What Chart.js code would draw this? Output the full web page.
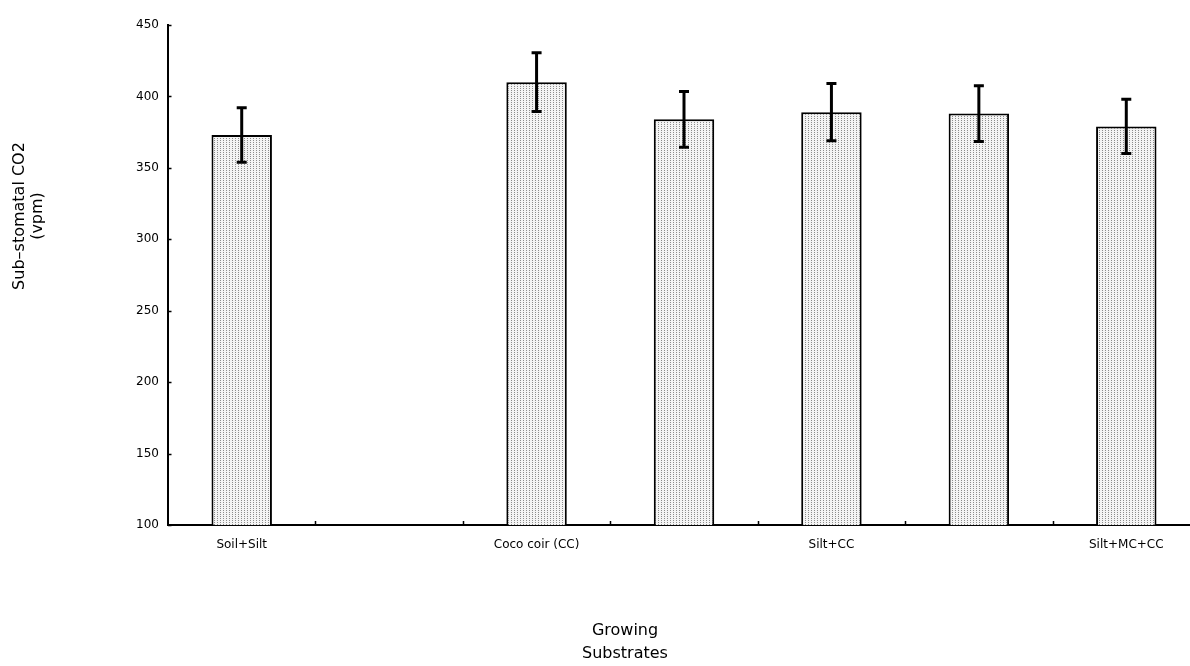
<!DOCTYPE html>
<html>
<head>
<meta charset="utf-8">
<script src="https://cdn.jsdelivr.net/npm/chart.js@4/dist/chart.umd.min.js"></script>
<style>
  html, body { margin: 0; padding: 0; background: #fff; overflow: hidden; }
  #wrap { width: 1204px; height: 666px; }
</style>
</head>
<body>
<div id="wrap"><canvas id="c" width="1204" height="666"></canvas></div>
<script>
// Growing substrates (some slots carry no printed label)
const categories = ['Soil+Silt', '', 'Coco coir (CC)', '', 'Silt+CC', '', 'Silt+MC+CC'];
// Mean sub-stomatal CO2 (vpm) per substrate
const meanCO2 = [373, null, 410, 384, 389, 388, 379];
// Error half-widths (vpm)
const errCO2 = [19, null, 20.5, 19.5, 20, 19.5, 19];
// Value axis ticks
const yTicks = [100, 150, 200, 250, 300, 350, 400, 450];

const FONT = "'DejaVu Sans', sans-serif";

// Light stippled fill for the bars
function stipple() {
  const t = document.createElement('canvas');
  t.width = 3; t.height = 2;
  const g = t.getContext('2d');
  g.fillStyle = '#f4f4f4';
  g.fillRect(0, 0, 3, 2);
  g.fillStyle = '#8c8c8c';
  g.fillRect(1, 0, 1, 1);
  return g.createPattern(t, 'repeat');
}

// Error bars drawn from the mean and half-width arrays
const errorBars = {
  id: 'errorBars',
  afterDatasetsDraw(chart) {
    const ctx = chart.ctx;
    const y = chart.scales.y;
    const meta = chart.getDatasetMeta(0);
    ctx.save();
    ctx.strokeStyle = '#000';
    ctx.lineCap = 'butt';
    meta.data.forEach((bar, i) => {
      const v = meanCO2[i], e = errCO2[i];
      if (v == null || e == null) return;
      const x = bar.x;
      const top = y.getPixelForValue(v + e);
      const bot = y.getPixelForValue(v - e);
      ctx.lineWidth = 3;
      ctx.beginPath();
      ctx.moveTo(x, top); ctx.lineTo(x, bot);
      ctx.stroke();
      ctx.beginPath();
      ctx.moveTo(x - 5, top); ctx.lineTo(x + 5, top);
      ctx.moveTo(x - 5, bot); ctx.lineTo(x + 5, bot);
      ctx.stroke();
    });
    ctx.restore();
  }
};

// Short inward tick marks and the two-line axis titles
const axisDecor = {
  id: 'axisDecor',
  afterDraw(chart) {
    const ctx = chart.ctx;
    const { x, y } = chart.scales;
    const area = chart.chartArea;
    ctx.save();
    ctx.strokeStyle = '#000';
    ctx.lineWidth = 1.5;
    ctx.beginPath();
    yTicks.forEach(v => {
      const py = Math.round(y.getPixelForValue(v)) + 0.5;
      ctx.moveTo(area.left, py); ctx.lineTo(area.left + 3.5, py);
    });
    for (let i = 0; i < categories.length - 1; i++) {
      const px = Math.round((x.getPixelForValue(i) + x.getPixelForValue(i + 1)) / 2) + 0.5;
      ctx.moveTo(px, area.bottom); ctx.lineTo(px, area.bottom - 4);
    }
    ctx.stroke();

    ctx.fillStyle = '#000';
    ctx.textAlign = 'center';
    ctx.textBaseline = 'middle';
    ctx.font = '16px ' + FONT;
    ctx.fillText('Growing', 625, 631);
    ctx.fillText('Substrates', 625, 654);

    ctx.translate(20, 216);
    ctx.rotate(-Math.PI / 2);
    ctx.fillText('Sub\u2013stomatal CO2', 0, 0);
    ctx.fillText('(vpm)', 0, 18);
    ctx.restore();
  }
};

new Chart(document.getElementById('c'), {
  type: 'bar',
  data: {
    labels: categories,
    datasets: [{
      data: meanCO2,
      backgroundColor: stipple(),
      borderColor: '#000',
      borderWidth: 2,
      borderSkipped: 'start',
      categoryPercentage: 1,
      barPercentage: 0.41
    }]
  },
  options: {
    responsive: false,
    animation: false,
    events: [],
    layout: { padding: { top: 25, right: 4, left: 0, bottom: 0 } },
    plugins: { legend: { display: false }, tooltip: { enabled: false } },
    scales: {
      x: {
        type: 'category',
        offset: true,
        grid: { display: false, drawTicks: false },
        border: { display: true, color: '#000', width: 2 },
        ticks: {
          autoSkip: false,
          maxRotation: 0,
          padding: 13,
          color: '#000',
          font: { family: FONT, size: 12 }
        },
        afterFit(s) { s.height = 141; }
      },
      y: {
        min: 100,
        max: 450,
        afterBuildTicks(s) { s.ticks = yTicks.map(v => ({ value: v })); },
        grid: { display: false, drawTicks: false },
        border: { display: true, color: '#000', width: 2 },
        ticks: {
          padding: 9,
          color: '#000',
          font: { family: FONT, size: 12 }
        },
        afterFit(s) { s.width = 168; }
      }
    }
  },
  plugins: [errorBars, axisDecor]
});
</script>
</body>
</html>
